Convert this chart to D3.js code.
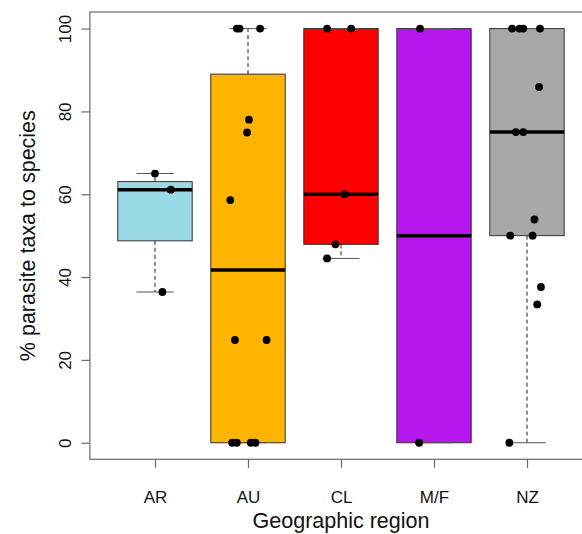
<!DOCTYPE html>
<html>
<head>
<meta charset="utf-8">
<script src="https://cdn.jsdelivr.net/npm/d3@7"></script>
<style>
  html, body { margin: 0; padding: 0; background: #fff; }
  svg { display: block; font-family: "Liberation Sans", Arial, sans-serif; }
</style>
</head>
<body>
<svg id="chart" width="582" height="534"></svg>
<script>
// ---- data ----
const categories = ["AR", "AU", "CL", "M/F", "NZ"];
const colors = ["#9AD9E6", "#FFB400", "#FF0000", "#B517EC", "#A8A8A8"];
const yTicks = [0, 20, 40, 60, 80, 100];

const valuesAR = [36.4, 61.1, 65.0];
const valuesAU = [0, 0, 0, 0, 24.8, 24.8, 58.6, 74.9, 78.0, 100, 100, 100];
const valuesCL = [44.5, 47.9, 60.0, 100, 100];
const valuesMF = [0, 100];
const valuesNZ = [0, 33.4, 37.6, 50, 50, 53.9, 75, 75, 85.9, 100, 100, 100, 100];

// horizontal jitter of each point (category units), as in the stripchart
const jitterAR = [0.08, 0.17, 0.0];
const jitterAU = [-0.17, -0.12, 0.03, 0.08, -0.14, 0.20, -0.19, -0.01, 0.01, -0.12, -0.09, 0.13];
const jitterCL = [-0.15, -0.06, 0.04, -0.15, 0.11];
const jitterMF = [-0.16, -0.15];
const jitterNZ = [-0.19, 0.11, 0.15, -0.18, 0.06, 0.08, -0.12, -0.04, 0.13, -0.16, -0.08, -0.04, 0.14];

const groupValues = [valuesAR, valuesAU, valuesCL, valuesMF, valuesNZ];
const groupJitter = [jitterAR, jitterAU, jitterCL, jitterMF, jitterNZ];

(function () {
// ---- stats (R fivenum / boxplot.stats) ----
function fivenum(arr) {
  const xs = [...arr].sort((a, b) => a - b);
  const n = xs.length;
  const n4 = Math.floor((n + 3) / 2) / 2;
  const d = [1, n4, (n + 1) / 2, n + 1 - n4, n];
  return d.map(v => 0.5 * (xs[Math.floor(v) - 1] + xs[Math.ceil(v) - 1]));
}
const stats = groupValues.map((vals, i) => {
  const f = fivenum(vals);
  const iqr = f[3] - f[1];
  const lo = d3.min(vals.filter(v => v >= f[1] - 1.5 * iqr));
  const hi = d3.max(vals.filter(v => v <= f[3] + 1.5 * iqr));
  return { i: i + 1, q1: f[1], med: f[2], q3: f[3], lo, hi, color: colors[i] };
});

// ---- layout ----
const svg = d3.select("#chart");
const pl = 89.9, pr = 592.1, pt = 12, pb = 459.3;

const x = d3.scaleLinear().domain([0.3, 5.7]).range([pl, pr]);
const y = d3.scaleLinear().domain([-4, 104]).range([pb, pt]);

const frameColor = "#6a6a6a";

// boxes
const g = svg.append("g");
stats.forEach(s => {
  g.append("rect")
    .attr("x", x(s.i - 0.4)).attr("width", x(s.i + 0.4) - x(s.i - 0.4))
    .attr("y", y(s.q3)).attr("height", y(s.q1) - y(s.q3))
    .attr("fill", s.color).attr("stroke", "#333").attr("stroke-width", 1);
  [[s.q1, s.lo], [s.q3, s.hi]].forEach(([a, b]) => {
    if (a !== b) {
      g.append("line")
        .attr("x1", x(s.i)).attr("x2", x(s.i))
        .attr("y1", y(a)).attr("y2", y(b))
        .attr("stroke", "#222").attr("stroke-width", 1)
        .attr("stroke-dasharray", "4,3");
    }
    g.append("line")
      .attr("x1", x(s.i - 0.2)).attr("x2", x(s.i + 0.2))
      .attr("y1", y(b)).attr("y2", y(b))
      .attr("stroke", "#555").attr("stroke-width", 1);
  });
  g.append("line")
    .attr("x1", x(s.i - 0.4)).attr("x2", x(s.i + 0.4))
    .attr("y1", y(s.med)).attr("y2", y(s.med))
    .attr("stroke", "#000").attr("stroke-width", 3.5);
});

// points
groupValues.forEach((vals, gi) => {
  svg.append("g").selectAll("circle")
    .data(vals.map((v, k) => ({ v, j: groupJitter[gi][k] })))
    .join("circle")
    .attr("cx", d => x(gi + 1 + d.j))
    .attr("cy", d => y(d.v))
    .attr("r", 3.9)
    .attr("fill", "#000");
});

// frame
svg.append("rect")
  .attr("x", pl).attr("y", pt)
  .attr("width", pr - pl).attr("height", pb - pt)
  .attr("fill", "none").attr("stroke", frameColor).attr("stroke-width", 1.2);

// y axis
const yAxis = svg.append("g")
  .attr("transform", `translate(${pl},0)`)
  .call(d3.axisLeft(y).tickValues(yTicks).tickSize(8.5).tickFormat(d3.format("d")));
yAxis.select(".domain").remove();
yAxis.selectAll(".tick line").attr("stroke", frameColor).attr("stroke-width", 1.2);
yAxis.selectAll(".tick text")
  .attr("x", 0).attr("y", 0).attr("dy", null)
  .attr("transform", "translate(-19,0) rotate(-90)")
  .attr("text-anchor", "middle")
  .attr("font-size", 17).attr("fill", "#111")
  .attr("font-family", "Liberation Sans, Arial, sans-serif");

// x axis
const xAxis = svg.append("g")
  .attr("transform", `translate(0,${pb})`)
  .call(d3.axisBottom(x).tickValues([1, 2, 3, 4, 5]).tickSize(8.5)
    .tickFormat(d => categories[d - 1]));
xAxis.select(".domain").remove();
xAxis.selectAll(".tick line").attr("stroke", frameColor).attr("stroke-width", 1.2);
xAxis.selectAll(".tick text")
  .attr("y", 44).attr("dy", null)
  .attr("font-size", 17).attr("fill", "#111")
  .attr("font-family", "Liberation Sans, Arial, sans-serif");

// titles
svg.append("text")
  .attr("x", (pl + pr) / 2).attr("y", 528)
  .attr("text-anchor", "middle")
  .attr("font-size", 21.5).attr("fill", "#111")
  .text("Geographic region");

svg.append("text")
  .attr("transform", `translate(35,${(pt + pb) / 2}) rotate(-90)`)
  .attr("text-anchor", "middle")
  .attr("font-size", 21.5).attr("fill", "#111")
  .text("% parasite taxa to species");
})();
</script>
</body>
</html>
